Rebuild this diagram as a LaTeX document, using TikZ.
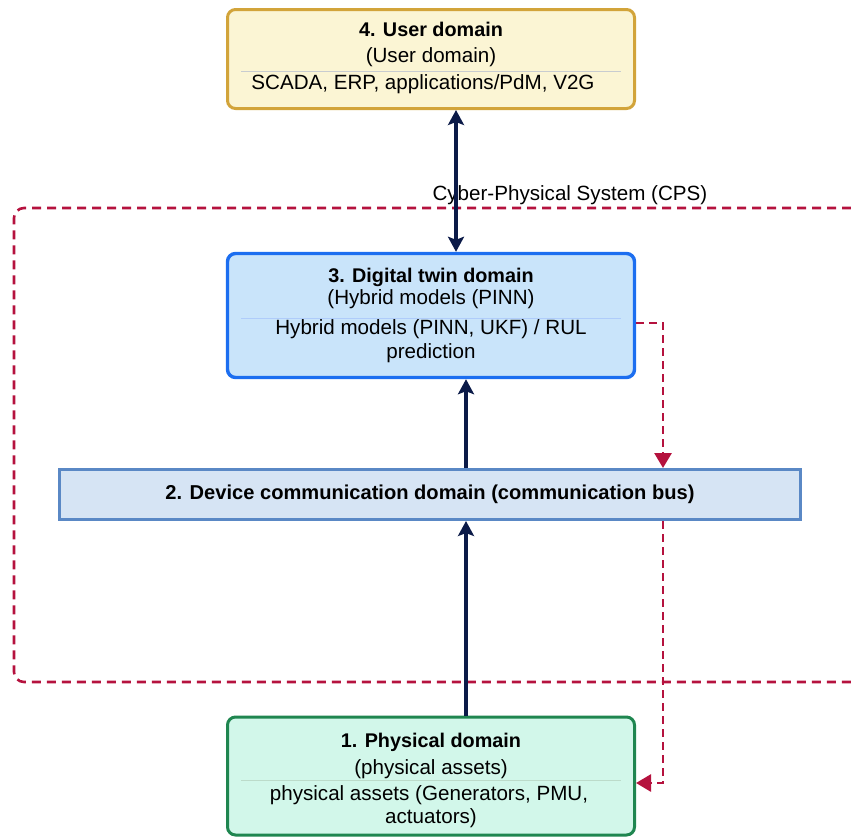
\documentclass[tikz,border=0pt]{standalone}
\usepackage{fontspec}
\setmainfont{Liberation Sans}
\usetikzlibrary{arrows.meta}

\definecolor{userfill}{HTML}{FBF5D4}
\definecolor{userdraw}{HTML}{D2A43A}
\definecolor{dtfill}{HTML}{C9E4FA}
\definecolor{dtdraw}{HTML}{1C6EF0}
\definecolor{busfill}{HTML}{D6E4F4}
\definecolor{busdraw}{HTML}{5A88C5}
\definecolor{physfill}{HTML}{D2F7EA}
\definecolor{physdraw}{HTML}{1F8650}
\definecolor{navy}{HTML}{0B1A48}
\definecolor{cpsred}{HTML}{B5123E}
\definecolor{rulegray}{HTML}{C8CCD0}

\tikzset{
  domainbox/.style={draw, line width=3pt, rounded corners=8pt, minimum width=407pt, inner sep=0pt},
  boxtitle/.style={anchor=base, font=\fontsize{19.8}{22}\selectfont\bfseries},
  boxtext/.style={anchor=base, font=\fontsize{20.6}{22}\selectfont},
  seprule/.style={line width=0.8pt},
  upflow/.style={navy, line width=3.6pt, -{Stealth[length=15pt, width=16pt, inset=3pt]}},
  twoway/.style={navy, line width=3.6pt, {Stealth[length=15pt, width=16pt, inset=3pt]}-{Stealth[length=15pt, width=16pt, inset=3pt]}},
  feedback/.style={cpsred, line width=2.8pt, dash pattern=on 8pt off 5pt, -{Triangle[length=15pt, width=17pt]}},
}

\begin{document}
\begin{tikzpicture}[x=1pt, y=-1pt]
  \useasboundingbox (0,0) rectangle (851,838);

  % Cyber-physical system frame (open on the right)
  \draw[cpsred, line width=2.6pt, dash pattern=on 9pt off 6pt, rounded corners=10pt]
    (851,208) -- (14,208) -- (14,682) -- (851,682);
  \node[boxtext, anchor=base west] (cps) at (429,200) {Cyber-Physical System (CPS)};

  % 4. User domain
  \node[domainbox, fill=userfill, draw=userdraw, minimum height=99pt] (user) at (431,59) {};
  \node[boxtitle] (usert) at (431,36) {4. User domain};
  \node[boxtext] (users) at (431,62) {(User domain)};
  \draw[seprule, rulegray] ([xshift=15pt]user.west |- 0,71) coordinate (ul) -- ([xshift=-15pt]user.east |- 0,71) coordinate (ur);
  \node[boxtext] (userb) at (423,89) {SCADA, ERP, applications/PdM, V2G};

  % 3. Digital twin domain
  \node[domainbox, fill=dtfill, draw=dtdraw, line width=3.4pt, minimum height=124pt] (dt) at (431,315.5) {};
  \node[boxtitle] (dtt) at (431,282) {3. Digital twin domain};
  \node[boxtext] (dts) at (431,304) {(Hybrid models (PINN)};
  \draw[seprule, dtdraw!35] ([xshift=15pt]dt.west |- 0,318) coordinate (dl) -- ([xshift=-15pt]dt.east |- 0,318) coordinate (dr);
  \node[boxtext] (dtb1) at (431,334) {Hybrid models (PINN, UKF) / RUL};
  \node[boxtext] (dtb2) at (431,358) {prediction};

  % 2. Device communication bus
  \node[draw=busdraw, fill=busfill, line width=3pt, minimum width=741pt, minimum height=50pt, inner sep=0pt,
        font=\fontsize{20.1}{22}\selectfont\bfseries] (bus) at (430,494.5)
        {2. Device communication domain (communication bus)};

  % 1. Physical domain
  \node[domainbox, fill=physfill, draw=physdraw, minimum height=118pt] (phys) at (431,776) {};
  \node[boxtitle] (physt) at (431,747) {1. Physical domain};
  \node[boxtext] (physs) at (431,774) {(physical assets)};
  \draw[seprule, physdraw!30] ([xshift=15pt]phys.west |- 0,780) coordinate (pl) -- ([xshift=-15pt]phys.east |- 0,780) coordinate (pr);
  \node[boxtext] (physb1) at (429,800) {physical assets (Generators, PMU,};
  \node[boxtext] (physb2) at (431,823) {actuators)};

  % Data flow up the stack
  \draw[twoway] (user.south -| 456,0) -- (dt.north -| 456,0);
  \draw[upflow] (bus.north -| 466,0) -- (dt.south -| 466,0);
  \draw[upflow] (phys.north -| 466,0) -- (bus.south -| 466,0);

  % Control feedback from the twin back to the assets
  \coordinate (fbtop) at (663,323);
  \coordinate (fbbot) at (663,783);
  \draw[feedback] (dt.east |- fbtop) -- (fbtop) -- (bus.north -| fbtop);
  \draw[feedback] (bus.south -| fbtop) -- (fbbot) -- (phys.east |- fbbot);
\end{tikzpicture}
\end{document}
